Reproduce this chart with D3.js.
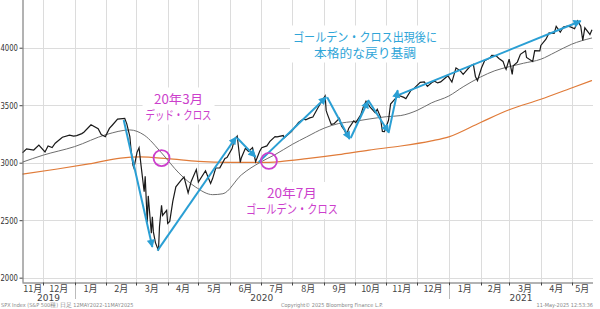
<!DOCTYPE html>
<html>
<head>
<meta charset="utf-8">
<script src="https://cdn.jsdelivr.net/npm/d3@7"></script>
<style>
  body { margin: 0; background: #fff; }
  svg { display: block; font-family: "Noto Sans CJK JP", "Noto Sans", sans-serif; }
</style>
</head>
<body>
<svg id="chart" width="600" height="309"></svg>
<script>
var priceDates = ["2019-11-11","2019-11-15","2019-11-22","2019-11-27","2019-12-03","2019-12-06","2019-12-10","2019-12-13","2019-12-20","2019-12-27","2019-12-31",
  "2020-01-03","2020-01-08","2020-01-10","2020-01-17","2020-01-24","2020-01-27","2020-01-31","2020-02-04","2020-02-07","2020-02-12","2020-02-19","2020-02-21","2020-02-24","2020-02-25","2020-02-27","2020-02-28",
  "2020-03-02","2020-03-04","2020-03-06","2020-03-09","2020-03-10","2020-03-12","2020-03-13","2020-03-16","2020-03-17","2020-03-18","2020-03-20","2020-03-23","2020-03-24","2020-03-26","2020-03-27","2020-03-31",
  "2020-04-01","2020-04-03","2020-04-06","2020-04-09","2020-04-14","2020-04-17","2020-04-21","2020-04-24","2020-04-29","2020-05-01","2020-05-08","2020-05-13","2020-05-15","2020-05-18","2020-05-22","2020-05-27","2020-05-29",
  "2020-06-03","2020-06-05","2020-06-08","2020-06-11","2020-06-12","2020-06-16","2020-06-19","2020-06-23","2020-06-26","2020-06-30","2020-07-02","2020-07-07","2020-07-10","2020-07-15","2020-07-17","2020-07-23","2020-07-24","2020-07-31",
  "2020-08-05","2020-08-07","2020-08-12","2020-08-14","2020-08-18","2020-08-21","2020-08-26","2020-08-28","2020-09-02","2020-09-03","2020-09-04","2020-09-08","2020-09-11","2020-09-16","2020-09-18","2020-09-21","2020-09-23","2020-09-25","2020-09-30",
  "2020-10-02","2020-10-07","2020-10-09","2020-10-12","2020-10-16","2020-10-21","2020-10-23","2020-10-26","2020-10-28","2020-10-30","2020-11-03","2020-11-05","2020-11-09","2020-11-13","2020-11-18","2020-11-20","2020-11-25","2020-11-27",
  "2020-12-04","2020-12-08","2020-12-11","2020-12-16","2020-12-18","2020-12-21","2020-12-24","2020-12-31",
  "2021-01-04","2021-01-08","2021-01-12","2021-01-15","2021-01-22","2021-01-25","2021-01-27","2021-01-29","2021-02-02","2021-02-05","2021-02-10","2021-02-12","2021-02-16","2021-02-19","2021-02-23","2021-02-25","2021-02-26",
  "2021-03-01","2021-03-04","2021-03-05","2021-03-09","2021-03-12","2021-03-17","2021-03-18","2021-03-24","2021-03-26","2021-03-31","2021-04-01","2021-04-06","2021-04-09","2021-04-14","2021-04-16","2021-04-20","2021-04-23","2021-04-27","2021-04-30",
  "2021-05-04","2021-05-07","2021-05-10","2021-05-12","2021-05-14","2021-05-18","2021-05-19","2021-05-21"];
var priceClose = [3087,3120,3110,3153,3093,3146,3132,3169,3221,3240,3231,
  3235,3253,3265,3330,3295,3244,3226,3298,3328,3379,3386,3338,3226,3128,2979,2954,
  3090,3130,2972,2747,2882,2481,2711,2386,2529,2398,2305,2237,2447,2630,2541,2585,
  2471,2489,2664,2790,2846,2875,2737,2837,2940,2831,2930,2820,2864,2954,2955,3036,3044,
  3123,3194,3232,3002,3041,3125,3098,3131,3009,3100,3130,3146,3185,3227,3225,3236,3216,3271,
  3327,3351,3380,3373,3390,3397,3478,3508,3580,3455,3427,3332,3341,3385,3319,3281,3237,3298,3363,
  3348,3419,3477,3534,3483,3435,3465,3401,3271,3270,3369,3510,3550,3585,3568,3557,3630,3638,
  3699,3702,3663,3701,3709,3694,3703,3756,
  3701,3824,3801,3768,3841,3855,3750,3714,3826,3887,3910,3934,3932,3906,3881,3829,3811,
  3901,3768,3842,3875,3943,3974,3915,3881,3975,3973,4020,4074,4129,4124,4185,4135,4180,4187,4181,
  4165,4233,4188,4063,4173,4127,4115,4156];

// 50-day moving average (grey)
var ma50Dates = ["2019-11-11","2019-12-01","2020-01-01","2020-02-01","2020-02-24","2020-03-09","2020-03-26","2020-04-12","2020-04-28","2020-05-15","2020-05-25","2020-06-12","2020-07-01","2020-07-15","2020-08-01","2020-08-15","2020-09-01","2020-09-15","2020-10-01","2020-10-15","2020-11-01","2020-11-15","2020-12-01","2020-12-15","2021-01-01","2021-01-15","2021-02-01","2021-02-15","2021-03-01","2021-03-15","2021-04-01","2021-04-15","2021-05-01","2021-05-21"];
var ma50Values = [3005,3065,3140,3245,3285,3240,3085,2910,2790,2722,2730,2893,3006,3070,3160,3225,3300,3340,3360,3380,3400,3410,3455,3520,3580,3660,3745,3800,3835,3865,3900,3960,4030,4085];

// 200-day moving average (orange)
var ma200Dates = ["2019-11-11","2019-12-15","2020-01-15","2020-02-15","2020-03-05","2020-04-01","2020-05-01","2020-06-01","2020-07-01","2020-07-20","2020-08-15","2020-09-15","2020-10-15","2020-11-15","2020-12-15","2021-01-01","2021-02-01","2021-03-01","2021-04-01","2021-05-01","2021-05-21"];
var ma200Values = [2900,2945,2990,3040,3050,3035,3012,3003,3002,3010,3035,3070,3110,3145,3190,3225,3350,3460,3552,3650,3715];

var yTicks = [2000, 2500, 3000, 3500, 4000];

// trend arrows: from date/value to date/value
var arrowFrom = [["2020-02-18",3371],["2020-03-22",2235],["2020-06-08",3215],["2020-06-29",3005],["2020-09-04",3570],["2020-09-27",3215],["2020-10-14",3545],["2020-11-03",3257],["2020-11-13",3590]];
var arrowTo   = [["2020-03-17",2267],["2020-06-07",3223],["2020-06-26",3050],["2020-09-03",3570],["2020-09-26",3206],["2020-10-14",3537],["2020-11-03",3267],["2020-11-12",3630],["2021-05-10",4232]];

// cross points
var crossDates = ["2020-03-26","2020-07-09"];
var crossValues = [3040, 3015];

var parse = d3.timeParse("%Y-%m-%d");
var svg = d3.select("#chart");
var plotLeft = 22.5, plotRight = 593, plotTop = 0, plotBottom = 282.5;

var xStart = new Date(2019, 10, 11), xEnd = new Date(2021, 4, 22);
var x = d3.scaleTime().domain([xStart, xEnd]).range([plotLeft, plotRight]);
var y = d3.scaleLinear().domain([1958, 4415]).range([plotBottom, plotTop]);

var blue = "#2a9fd4", magenta = "#cc3fcc";

// grid
var months = d3.timeMonth.range(new Date(2019, 11, 1), xEnd);
svg.append("g").selectAll("line").data(months).enter().append("line")
  .attr("x1", function(d) { return Math.round(x(d)) + 0.5; })
  .attr("x2", function(d) { return Math.round(x(d)) + 0.5; })
  .attr("y1", plotTop).attr("y2", plotBottom)
  .attr("stroke", "#dcdcdc").attr("stroke-width", 1);
svg.append("g").selectAll("line").data(yTicks).enter().append("line")
  .attr("x1", plotLeft).attr("x2", plotRight)
  .attr("y1", function(d) { return Math.round(y(d)) + 0.5; })
  .attr("y2", function(d) { return Math.round(y(d)) + 0.5; })
  .attr("stroke", "#dcdcdc").attr("stroke-width", 1);

// moving averages and price
function series(dates, values) {
  return dates.map(function(d, i) { return { date: parse(d), value: values[i] }; });
}
var line = d3.line().x(function(d) { return x(d.date); }).y(function(d) { return y(d.value); });
var lineSmooth = d3.line().curve(d3.curveMonotoneX).x(function(d) { return x(d.date); }).y(function(d) { return y(d.value); });

svg.append("path").datum(series(ma200Dates, ma200Values))
  .attr("d", lineSmooth).attr("fill", "none").attr("stroke", "#e07b39").attr("stroke-width", 1.2);
svg.append("path").datum(series(ma50Dates, ma50Values))
  .attr("d", lineSmooth).attr("fill", "none").attr("stroke", "#6e6e6e").attr("stroke-width", 1);
svg.append("path").datum(series(priceDates, priceClose))
  .attr("d", line).attr("fill", "none").attr("stroke", "#1a1a1a").attr("stroke-width", 1.2);

// axes
var yAxis = svg.append("g").attr("transform", "translate(" + plotLeft + ",0)")
  .call(d3.axisLeft(y).tickValues(yTicks).tickFormat(d3.format("d")).tickSize(3).tickPadding(1.5));
yAxis.select(".domain").attr("d", "M0.5," + plotTop + "V" + plotBottom).attr("stroke", "#666");
yAxis.selectAll(".tick line").attr("stroke", "#444");
yAxis.selectAll("text").attr("font-size", 9).attr("fill", "#333")
  .attr("font-family", "'Liberation Sans Narrow', 'DejaVu Sans Condensed', sans-serif")
  .attr("textLength", 17.5).attr("lengthAdjust", "spacingAndGlyphs");

svg.append("line").attr("x1", plotLeft).attr("x2", plotRight)
  .attr("y1", plotBottom + 0.5).attr("y2", plotBottom + 0.5).attr("stroke", "#666");
svg.append("g").selectAll("line").data(months).enter().append("line")
  .attr("x1", function(d) { return Math.round(x(d)) + 0.5; })
  .attr("x2", function(d) { return Math.round(x(d)) + 0.5; })
  .attr("y1", plotBottom).attr("y2", plotBottom + 3).attr("stroke", "#444");

// month labels centred in visible part of month
var monthStarts = d3.timeMonth.range(d3.timeMonth.floor(xStart), xEnd);
svg.append("g").selectAll("text").data(monthStarts).enter().append("text")
  .attr("x", function(d) {
    var a = d < xStart ? xStart : d;
    var b = d3.timeMonth.offset(d, 1); if (b > xEnd) b = xEnd;
    return (x(a) + x(b)) / 2;
  })
  .attr("y", 291.5).attr("text-anchor", "middle").attr("font-size", 9).attr("fill", "#444")
  .text(function(d) { return (d.getMonth() + 1) + "月"; });

var years = [2019, 2020, 2021];
svg.append("g").selectAll("text").data(years).enter().append("text")
  .attr("x", function(d) {
    var a = new Date(d, 0, 1), b = new Date(d + 1, 0, 1);
    if (a < xStart) a = xStart; if (b > xEnd) b = xEnd;
    return (x(a) + x(b)) / 2;
  })
  .attr("y", 300.5).attr("text-anchor", "middle").attr("font-size", 9).attr("fill", "#444")
  .attr("font-family", "'DejaVu Sans', sans-serif")
  .text(function(d) { return d; });
svg.append("g").selectAll("line").data([new Date(2020, 0, 1), new Date(2021, 0, 1)]).enter().append("line")
  .attr("x1", function(d) { return Math.round(x(d)) + 0.5; })
  .attr("x2", function(d) { return Math.round(x(d)) + 0.5; })
  .attr("y1", 286).attr("y2", 299).attr("stroke", "#bbb");

// arrows
svg.append("defs").append("marker").attr("id", "ah")
  .attr("viewBox", "0 0 10 10").attr("refX", 9).attr("refY", 5)
  .attr("markerWidth", 9).attr("markerHeight", 8).attr("markerUnits", "userSpaceOnUse")
  .attr("orient", "auto")
  .append("path").attr("d", "M0,0L10,5L0,10z").attr("fill", blue);
svg.append("g").selectAll("line").data(arrowFrom).enter().append("line")
  .attr("x1", function(d) { return x(parse(d[0])); })
  .attr("y1", function(d) { return y(d[1]); })
  .attr("x2", function(d, i) { return x(parse(arrowTo[i][0])); })
  .attr("y2", function(d, i) { return y(arrowTo[i][1]); })
  .attr("stroke", blue).attr("stroke-width", 2).attr("marker-end", "url(#ah)");

// cross circles
svg.append("g").selectAll("circle").data(crossDates).enter().append("circle")
  .attr("cx", function(d) { return x(parse(d)); })
  .attr("cy", function(d, i) { return y(crossValues[i]); })
  .attr("r", 8).attr("fill", "none").attr("stroke", magenta).attr("stroke-width", 1.8);

// annotation text with white backing
function label(lines, cx, baseline, color, widths) {
  var g = svg.append("g");
  var bg = g.append("rect").attr("fill", "#fff");
  lines.forEach(function(t, i) {
    g.append("text").attr("x", cx).attr("y", baseline + i * 16)
      .attr("text-anchor", "middle").attr("font-size", 12.5).attr("fill", color)
      .attr("textLength", widths[i]).attr("lengthAdjust", "spacingAndGlyphs")
      .text(t);
  });
  var b = g.node().getBBox();
  bg.attr("x", b.x - 3).attr("y", b.y - 1).attr("width", b.width + 6).attr("height", b.height + 2);
}
var dx = x(parse(crossDates[0])), gx = x(parse(crossDates[1]));
label(["20年3月", "デッド・クロス"], dx + 17, 103.5, magenta, [49, 66]);
label(["20年7月", "ゴールデン・クロス"], gx + 23, 198, magenta, [50, 92]);
label(["ゴールデン・クロス出現後に", "本格的な戻り基調"], 365, 41.5, "#2fa5d8", [144, 102]);

// footer
var foot = svg.append("g").attr("font-size", 5.5).attr("fill", "#888")
  .attr("font-family", "'DejaVu Sans Condensed', sans-serif");
foot.append("text").attr("x", 1).attr("y", 307).text("SPX Index (S&P 500種)  日足  12MAY2022-11MAY2025");
foot.append("text").attr("x", 332).attr("y", 307).attr("text-anchor", "middle").text("Copyright© 2025 Bloomberg Finance L.P.");
foot.append("text").attr("x", 593).attr("y", 307).attr("text-anchor", "end").text("11-May-2025 12:53:36");
</script>
</body>
</html>
